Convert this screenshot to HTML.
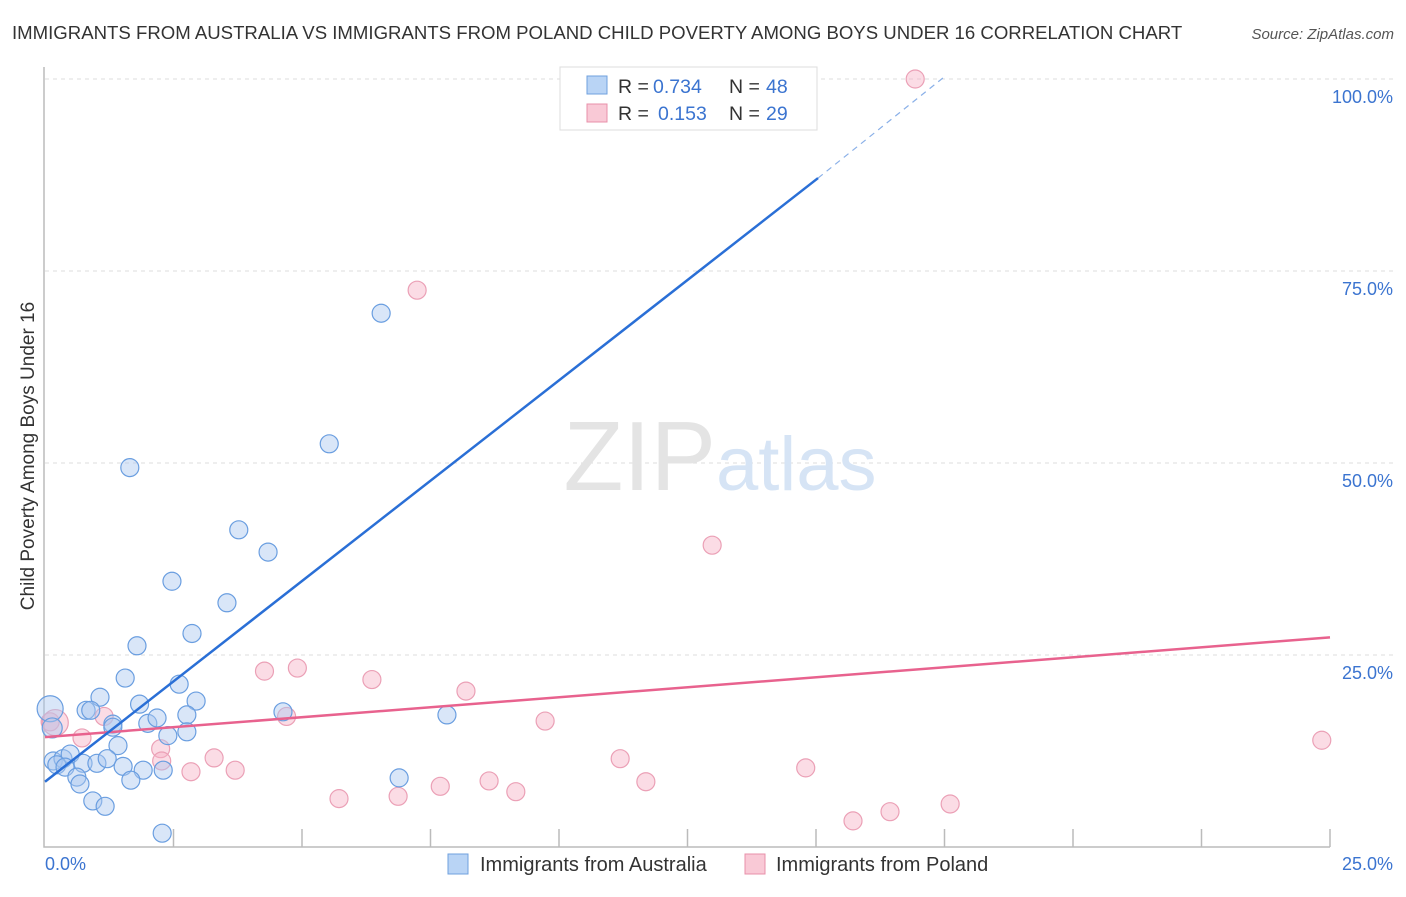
<!DOCTYPE html>
<html><head><meta charset="utf-8"><style>
body{margin:0;background:#fff;font-family:"Liberation Sans",sans-serif;}
svg text{font-family:"Liberation Sans",sans-serif;}
</style></head><body>
<svg id="chart" width="1406" height="892" xmlns="http://www.w3.org/2000/svg">
<text x="12" y="39" font-size="18.6" fill="#333">IMMIGRANTS FROM AUSTRALIA VS IMMIGRANTS FROM POLAND CHILD POVERTY AMONG BOYS UNDER 16 CORRELATION CHART</text>
<text x="1394" y="39" font-size="15" fill="#555" text-anchor="end" font-style="italic">Source: ZipAtlas.com</text>
<text transform="translate(34,456) rotate(-90)" font-size="19" fill="#333" text-anchor="middle">Child Poverty Among Boys Under 16</text>
<g id="grid"></g>
<g id="axes"></g>
<text x="720" y="490" font-size="98" text-anchor="middle" fill="#e4e4e4" font-family="Liberation Serif"><tspan>ZIP</tspan><tspan fill="#d6e4f5" font-family="Liberation Sans" font-size="76">atlas</tspan></text>
<g id="marks"></g>
<g id="lines"></g>
<g>
<rect x="560" y="67" width="257" height="63" fill="#fff" stroke="#ddd"/>
<rect x="587" y="76" width="20" height="18" fill="#b9d4f5" stroke="#6fa0de"/>
<text x="618" y="93" font-size="19.5" fill="#333">R =</text>
<text x="653" y="93" font-size="19.5" fill="#3b74d0">0.734</text>
<text x="729" y="93" font-size="19.5" fill="#333">N =</text>
<text x="766" y="93" font-size="19.5" fill="#3b74d0">48</text>
<rect x="587" y="104" width="20" height="18" fill="#f9c9d6" stroke="#e890aa"/>
<text x="618" y="120" font-size="19.5" fill="#333">R =</text>
<text x="658" y="120" font-size="19.5" fill="#3b74d0">0.153</text>
<text x="729" y="120" font-size="19.5" fill="#333">N =</text>
<text x="766" y="120" font-size="19.5" fill="#3b74d0">29</text>
</g>
<g>
<rect x="448" y="854" width="20" height="20" fill="#b9d4f5" stroke="#6fa0de"/>
<text x="480" y="871" font-size="20" fill="#333">Immigrants from Australia</text>
<rect x="745" y="854" width="20" height="20" fill="#f9c9d6" stroke="#e890aa"/>
<text x="776" y="871" font-size="20" fill="#333">Immigrants from Poland</text>
</g>
</svg>
<script>
const xTicks=[0,2.5,5,7.5,10,12.5,15,17.5,20,22.5,25];
const yTicks=[25,50,75,100];
const yTickLabels=["25.0%","50.0%","75.0%","100.0%"];
const xEndLabels=["0.0%","25.0%"];
const ausX=[1.79,1.56,2.61,1.07,0.80,0.89,1.84,2.94,0.10,0.14,1.32,1.32,2.00,2.18,2.76,2.76,2.39,1.42,0.16,0.35,0.49,0.23,0.39,0.74,1.01,1.21,1.52,1.91,2.30,0.62,0.68,1.67,0.93,1.17,2.28,4.63,1.65,5.53,6.54,3.77,4.34,2.47,3.54,2.86,7.82,6.89,13.72];
const ausY=[26.2,22.0,21.2,19.5,17.8,17.8,18.6,19.0,18.0,15.5,16.0,15.6,16.1,16.8,17.2,15.0,14.5,13.2,11.2,11.5,12.1,10.7,10.4,10.9,10.9,11.5,10.5,10.0,10.0,9.1,8.2,8.7,6.0,5.3,1.8,17.6,49.4,52.5,69.5,41.3,38.4,34.6,31.8,27.8,17.2,9.0,100];
const ausR=[9,9,9,9,9,9,9,9,13,10,9,9,9,9,9,9,9,9,9,9,9,9,9,9,9,9,9,9,9,9,9,9,9,9,9,9,9,9,9,9,9,9,9,9,9,9,9];
const polX=[0.10,1.15,0.72,2.25,2.27,2.84,3.70,3.29,4.27,4.70,4.91,7.24,6.36,8.19,9.73,11.19,8.64,7.69,6.87,5.72,9.16,11.69,12.98,14.80,15.72,16.44,17.61,24.84,16.93,0.20];
const polY=[16.3,17.0,14.2,12.8,11.2,9.8,10.0,11.6,22.9,17.0,23.3,72.5,21.8,20.3,16.4,11.5,8.6,7.9,6.6,6.3,7.2,8.5,39.3,10.3,3.4,4.6,5.6,13.9,100,16.2];
const polR=[9,9,9,9,9,9,9,9,9,9,9,9,9,9,9,9,9,9,9,9,9,9,9,9,9,9,9,9,9,13];
const ausTrend=[[0,8.5],[15.04,87.1]];
const ausTrendExt=[[15.04,87.1],[17.5,100.3]];
const polTrend=[[0,14.3],[25,27.3]];
const NS="http://www.w3.org/2000/svg";
const X=v=>45+v/25*1285, Y=v=>847-v/100*768;
function mk(t,a,p){const e=document.createElementNS(NS,t);for(const k in a)e.setAttribute(k,a[k]);p.appendChild(e);return e;}
const grid=document.getElementById('grid'),axes=document.getElementById('axes'),marks=document.getElementById('marks'),lines=document.getElementById('lines');
yTicks.forEach((t,i)=>{
 const g=mk('line',{x1:45,x2:1395,y1:Y(t),y2:Y(t),stroke:'#ddd','stroke-dasharray':'4,4'},grid);
 
 
 const tx=mk('text',{x:1393,y:Y(t)+24,'font-size':18,fill:'#3b74d0','text-anchor':'end'},axes);
 tx.textContent=yTickLabels[i];
 
 
});
const ax=mk('path',{d:`M44,67 V${Y(0)} H1330`,stroke:'#bbb',fill:'none','stroke-width':1.5},axes);


xTicks.slice(1).forEach(t=>{
 const l=mk('line',{x1:X(t),x2:X(t),y1:Y(0),y2:Y(0)-18,stroke:'#bbb','stroke-width':1.5},axes);
 
 
});
[[0,'start',45],[1,'end',1393]].forEach(([i,a,x])=>{
 const tx=mk('text',{x:x,y:870,'font-size':18,fill:'#3b74d0','text-anchor':a},axes);
 tx.textContent=xEndLabels[i];
 
 
});
polX.forEach((v,i)=>{
 const c=mk('circle',{cx:X(v),cy:Y(polY[i]),r:polR[i],fill:'rgba(246,178,198,0.45)',stroke:'#eba0b6','stroke-width':1.2},marks);
 
 
});
ausX.forEach((v,i)=>{
 const c=mk('circle',{cx:X(v),cy:Y(ausY[i]),r:ausR[i],fill:'rgba(170,200,240,0.45)',stroke:'#6a9ee0','stroke-width':1.2},marks);
 
 
});
function ln(p,st,w,dash,name){
 const l=mk('line',{x1:X(p[0][0]),y1:Y(p[0][1]),x2:X(p[1][0]),y2:Y(p[1][1]),stroke:st,'stroke-width':w},lines);
 if(dash)l.setAttribute('stroke-dasharray',dash);
 
 
}
ln(polTrend,'#e8628e',2.5,null,'trend-line-poland');
ln(ausTrend,'#2a6fd6',2.5,null,'trend-line-australia');
ln(ausTrendExt,'#8ab0e8',1.2,'6,5','trend-line-australia-extension');
</script>
</body></html>
